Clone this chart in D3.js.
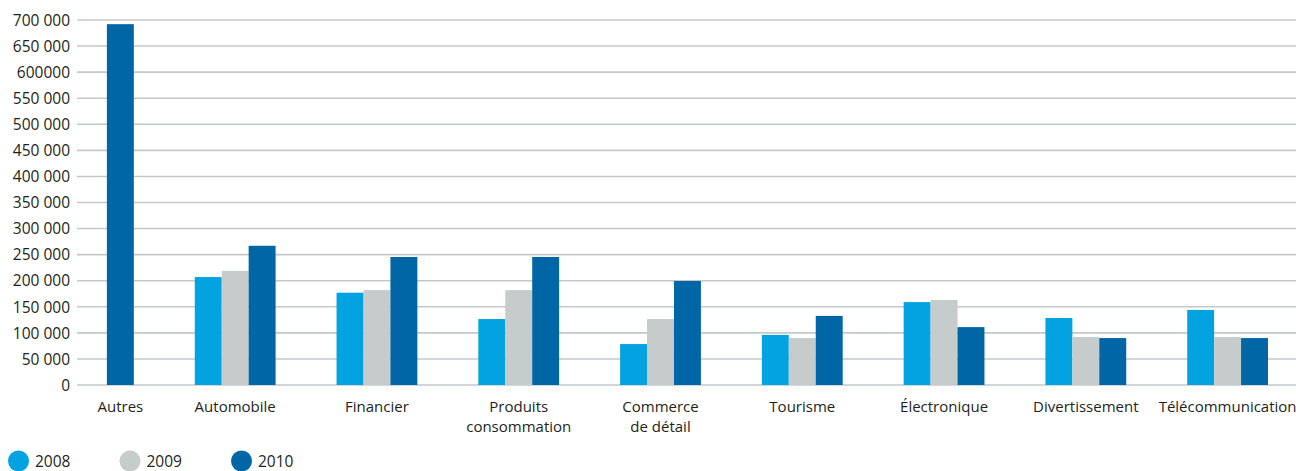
<!DOCTYPE html>
<html lang="fr">
<head>
<meta charset="utf-8">
<script src="https://cdn.jsdelivr.net/npm/d3@7"></script>
<style>
  html, body { margin: 0; padding: 0; background: #ffffff; }
  svg { display: block; font-family: "Open Sans", "Noto Sans", sans-serif; }
</style>
</head>
<body>
<svg id="chart" width="1296" height="471"></svg>
<script>
// Secteurs (libellés multi-lignes séparés par \n)
const categories = [
  "Autres", "Automobile", "Financier", "Produits\nconsommation",
  "Commerce\nde détail", "Tourisme", "Électronique", "Divertissement", "Télécommunication"
];
const years = ["2008", "2009", "2010"];

// Valeurs par année (null = pas de donnée)
const values2008 = [null, 207000, 177000, 126500, 78500, 96000, 159000, 128500, 144000];
const values2009 = [null, 219000, 182000, 182000, 126500, 90000, 163000, 92000, 92000];
const values2010 = [692000, 267000, 245500, 245500, 199500, 132500, 111000, 90000, 90000];

const yTicks = [0, 50000, 100000, 150000, 200000, 250000, 300000, 350000,
                400000, 450000, 500000, 550000, 600000, 650000, 700000];
const yTickLabels = ["0", "50 000", "100 000", "150 000", "200 000", "250 000", "300 000",
                     "350 000", "400 000", "450 000", "500 000", "550 000", "600000",
                     "650 000", "700 000"];

const colors = { "2008": "#03a3e2", "2009": "#c6cbcb", "2010": "#0066a6" };

const seriesByYear = { "2008": values2008, "2009": values2009, "2010": values2010 };
const rows = categories.map((c, i) => ({
  cat: c,
  vals: years.map(y => ({ year: y, value: seriesByYear[y][i] })).filter(d => d.value != null)
}));

const svg = d3.select("#chart");
const gridLeft = 77, gridRight = 1296;
const plotTop = 20, plotBottom = 385;

const y = d3.scaleLinear().domain([0, 700000]).range([plotBottom, plotTop]);

const x = d3.scaleBand()
  .domain(categories)
  .range([53, 1268])
  .paddingInner(0.43)
  .paddingOuter(0);

const xInner = d3.scaleBand().domain(years).range([0, x.bandwidth()]);

// Lignes de quadrillage
svg.append("g")
  .selectAll("line")
  .data(yTicks)
  .join("line")
  .attr("x1", gridLeft)
  .attr("x2", gridRight)
  .attr("y1", d => y(d))
  .attr("y2", d => y(d))
  .attr("stroke", "#c5c8c8")
  .attr("stroke-width", 1.6);

// Axe vertical : libellés seulement
const yAxis = d3.axisLeft(y)
  .tickValues(yTicks)
  .tickFormat((d, i) => yTickLabels[i])
  .tickSize(0)
  .tickPadding(0);
const gy = svg.append("g").attr("transform", "translate(70,0)").call(yAxis);
gy.select(".domain").remove();
gy.selectAll("text")
  .attr("fill", "#231f20")
  .style("font-size", "15.5px")
  .style("font-family", "'Open Sans', sans-serif")
  .attr("dy", "0.34em");

// Barres
const groups = svg.append("g")
  .selectAll("g")
  .data(rows)
  .join("g")
  .attr("transform", d => `translate(${x(d.cat)},0)`);

groups.selectAll("rect")
  .data(d => d.vals)
  .join("rect")
  .attr("x", d => xInner(d.year))
  .attr("width", xInner.bandwidth())
  .attr("y", d => y(d.value))
  .attr("height", d => y(0) - y(d.value))
  .attr("fill", d => colors[d.year]);

// Libellés des catégories, centrés sous les barres présentes
const labels = svg.append("g")
  .selectAll("text")
  .data(rows)
  .join("text")
  .attr("transform", d => {
    const xs = d.vals.map(v => xInner(v.year));
    const cx = x(d.cat) + (d3.min(xs) + d3.max(xs) + xInner.bandwidth()) / 2;
    return `translate(${cx},412)`;
  })
  .attr("text-anchor", "middle")
  .attr("fill", "#231f20")
  .style("font-size", "15px");

labels.selectAll("tspan")
  .data(d => d.cat.split("\n"))
  .join("tspan")
  .attr("x", 0)
  .attr("dy", (d, i) => i === 0 ? 0 : 20)
  .text(d => d);

// Légende
const legend = svg.append("g")
  .selectAll("g")
  .data(years)
  .join("g")
  .attr("transform", (d, i) => `translate(${18.5 + i * 111.5},461)`);

legend.append("circle")
  .attr("r", 10.5)
  .attr("fill", d => colors[d]);

legend.append("text")
  .attr("x", 16.5)
  .attr("y", 5.5)
  .attr("fill", "#231f20")
  .style("font-size", "15.5px")
  .text(d => d);
</script>
</body>
</html>
